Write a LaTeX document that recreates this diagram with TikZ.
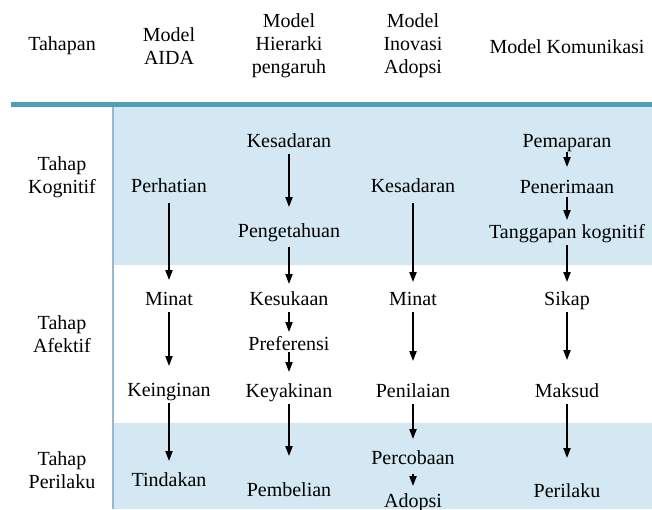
\documentclass[tikz,border=0pt]{standalone}
\usepackage{fontspec}
\setmainfont{Liberation Serif}
\usetikzlibrary{arrows.meta, positioning}
\definecolor{bandblue}{RGB}{211,232,242}
\definecolor{rulecolor}{RGB}{78,160,185}
\definecolor{edgecolor}{RGB}{150,186,206}

\begin{document}
\begin{tikzpicture}[x=0.5pt, y=-0.5pt,
        font=\fontsize{10}{11.5}\selectfont,
        head/.style={align=center, inner sep=0pt},
        stage/.style={align=center, inner sep=0pt},
        item/.style={inner sep=0pt, outer sep=0pt, text height=7pt, text depth=2pt},
        flow/.style={-{Triangle[length=5pt, width=3.6pt]}, line width=0.75pt, shorten <=1.5pt, shorten >=5.5pt}
    ]
        \useasboundingbox (0,0) rectangle (652,509);

        % Bands and rules
        \fill[bandblue] (113,107) rectangle (652,265);
        \fill[bandblue] (113,423) rectangle (652,509);
        \draw[edgecolor, line width=1pt] (113,107) -- (113,509);
        \draw[rulecolor, line width=2.5pt] (11,104.5) -- (652,104.5);

        % Header
        \node[head] (tahapan) at (62,46) {Tahapan};
        \node[head] (aida) at (169,46) {Model\\AIDA};
        \node[head] (hierarki) at (289,46) {Model\\Hierarki\\pengaruh};
        \node[head] (inovasi) at (413,46) {Model\\Inovasi\\Adopsi};
        \node[head] (komunikasi) at (567,47) {Model Komunikasi};

        % Stages
        \node[stage] (kognitif) at (62,177) {Tahap\\Kognitif};
        \node[stage] (afektif) at (62,334) {Tahap\\Afektif};
        \node[stage] (perilakuStage) at (62,470) {Tahap\\Perilaku};

        % AIDA
        \node[item] (perhatian) at (169,187) {Perhatian};
        \node[item, below=47.5pt of perhatian] (minat) {Minat};
        \node[item, below=36.5pt of minat] (keinginan) {Keinginan};
        \node[item, below=36pt of keinginan] (tindakan) {Tindakan};

        % Hierarki pengaruh
        \node[item] (kesadaran) at (289,142) {Kesadaran};
        \node[item, below=36pt of kesadaran] (pengetahuan) {Pengetahuan};
        \node[item, below=25pt of pengetahuan] (kesukaan) {Kesukaan};
        \node[item, below=13.5pt of kesukaan] (preferensi) {Preferensi};
        \node[item, below=14.5pt of preferensi] (keyakinan) {Keyakinan};
        \node[item, below=40.5pt of keyakinan] (pembelian) {Pembelian};

        % Inovasi adopsi
        \node[item] (kesadaranB) at (413,187) {Kesadaran};
        \node[item, below=47.5pt of kesadaranB] (minatB) {Minat};
        \node[item, below=37pt of minatB] (penilaian) {Penilaian};
        \node[item, below=24.5pt of penilaian] (percobaan) {Percobaan};
        \node[item, below=12.5pt of percobaan] (adopsi) {Adopsi};

        % Komunikasi
        \node[item] (pemaparan) at (567,142) {Pemaparan};
        \node[item, below=14pt of pemaparan] (penerimaan) {Penerimaan};
        \node[item, below=13.5pt of penerimaan] (tanggapan) {Tanggapan kognitif};
        \node[item, below=24.5pt of tanggapan] (sikap) {Sikap};
        \node[item, below=37pt of sikap] (maksud) {Maksud};
        \node[item, below=41pt of maksud] (perilaku) {Perilaku};

        % Arrows AIDA
        \draw[flow, shorten <=3.5pt] (perhatian) -- (minat);
        \draw[flow, shorten >=8pt] (minat) -- (keinginan);
        \draw[flow] (keinginan) -- (tindakan);

        % Arrows hierarki
        \draw[flow, shorten >=8pt] (kesadaran) -- (pengetahuan);
        \draw[flow, shorten <=3pt, shorten >=3.5pt] (pengetahuan) -- (kesukaan);
        \draw[flow, shorten >=2pt] (kesukaan) -- (preferensi);
        \draw[flow, shorten <=-1pt] (preferensi) -- (keyakinan);
        \draw[flow, shorten >=13pt] (keyakinan) -- (pembelian);

        % Arrows inovasi
        \draw[flow, shorten <=3.5pt, shorten >=4.5pt] (kesadaranB) -- (minatB);
        \draw[flow, shorten >=11pt] (minatB) -- (penilaian);
        \draw[flow] (penilaian) -- (percobaan);
        \draw[flow, shorten <=3pt, shorten >=3.5pt] (percobaan) -- (adopsi);

        % Arrows komunikasi
        \draw[flow, shorten <=0.5pt, shorten >=6pt] (pemaparan) -- (penerimaan);
        \draw[flow, shorten <=0pt, shorten >=2pt] (penerimaan) -- (tanggapan);
        \draw[flow, shorten >=4.5pt] (tanggapan) -- (sikap);
        \draw[flow, shorten >=11.5pt] (sikap) -- (maksud);
        \draw[flow, shorten >=12.5pt] (maksud) -- (perilaku);

    \end{tikzpicture}
\end{document}
